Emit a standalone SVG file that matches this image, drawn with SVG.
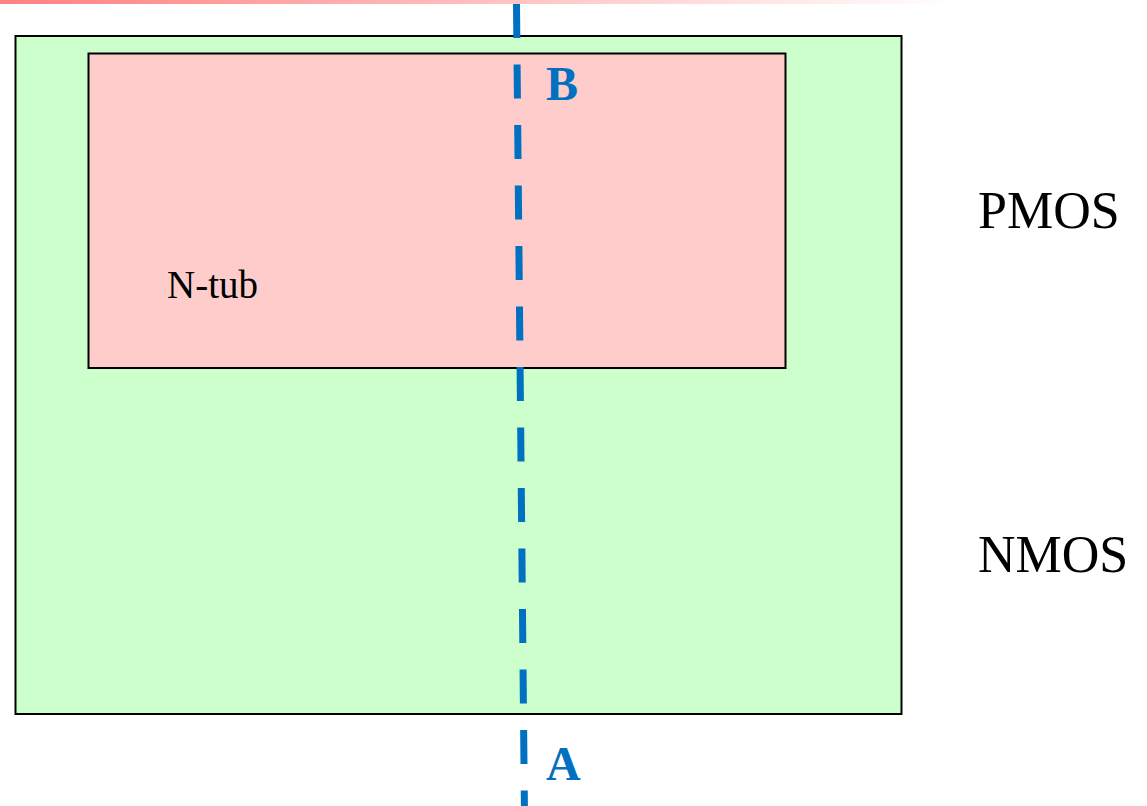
<svg xmlns="http://www.w3.org/2000/svg" width="1147" height="806" viewBox="0 0 1147 806">
  <style>
    .well { stroke: #000; stroke-width: 2; }
    .label { font-family: "Liberation Serif", "Times New Roman", serif; fill: #000; }
    .cut { font-family: "Liberation Serif", "Times New Roman", serif; font-weight: bold; fill: #0070C0; font-size: 48px; }
    .cutline { stroke: #0070C0; stroke-width: 7; stroke-dasharray: 34 26.5; fill: none; }
  </style>
  <defs>
    <linearGradient id="topBar" x1="0" y1="0" x2="1" y2="0">
      <stop offset="0" stop-color="#FF8080"/>
      <stop offset="1" stop-color="#FFFFFF"/>
    </linearGradient>
  </defs>

  <rect width="1147" height="806" fill="#FFFFFF"/>

  <!-- substrate -->
  <g id="substrate">
    <rect class="well" x="15.5" y="36" width="886" height="678" fill="#CCFFCC"/>
  </g>

  <!-- n-tub well -->
  <g id="ntub">
    <rect class="well" x="88.5" y="53.5" width="697" height="314.5" fill="#FFCCCC"/>
    <text class="label" x="167" y="298" font-size="39">N-tub</text>
  </g>

  <!-- cross-section cut line A-B -->
  <g id="connectors">
    <line class="cutline" x1="516.5" y1="4" x2="524.4" y2="806"/>
  </g>

  <g id="labelB">
    <text class="cut" x="546" y="100">B</text>
  </g>
  <g id="labelA">
    <text class="cut" x="546" y="780">A</text>
  </g>

  <g id="pmos">
    <text class="label" x="978" y="228" font-size="52">PMOS</text>
  </g>
  <g id="nmos">
    <text class="label" x="978" y="572" font-size="52">NMOS</text>
  </g>

  <!-- header rule -->
  <rect x="0" y="0" width="960" height="4" fill="url(#topBar)"/>
</svg>
